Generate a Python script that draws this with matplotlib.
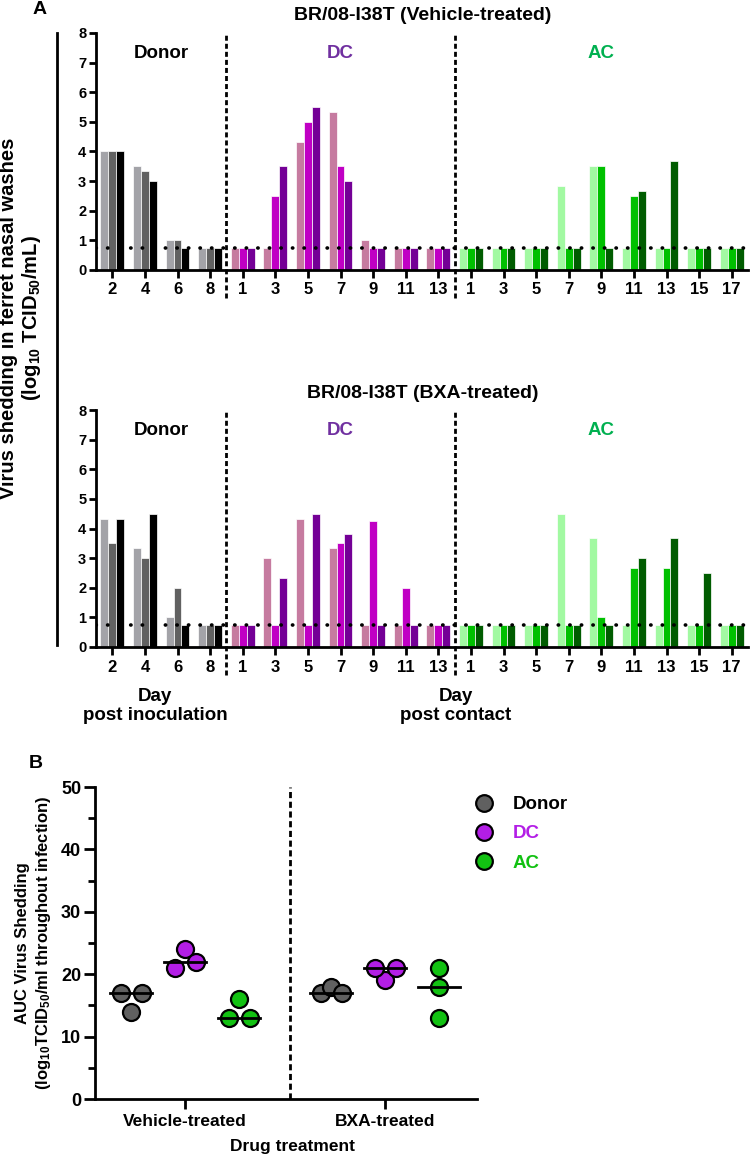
import numpy as np
import matplotlib
matplotlib.use("Agg")
import matplotlib.pyplot as plt
from matplotlib.lines import Line2D

# --- Panel A data: virus titres (log10 TCID50/mL), one list per animal ---
DONOR_DAYS = [2, 4, 6, 8]
DC_DAYS = [1, 3, 5, 7, 9, 11, 13]
AC_DAYS = [1, 3, 5, 7, 9, 11, 13, 15, 17]
LIMIT = 0.75  # detection limit

VEH_DONOR = [
    [4.0, 3.5, 1.0, 0.75],
    [4.0, 3.33, 1.0, 0.75],
    [4.0, 3.0, 0.75, 0.75],
]
VEH_DC = [
    [0.75, 0.75, 4.33, 5.33, 1.0, 0.75, 0.75],
    [0.75, 2.5, 5.0, 3.5, 0.75, 0.75, 0.75],
    [0.75, 3.5, 5.5, 3.0, 0.75, 0.75, 0.75],
]
VEH_AC = [
    [0.75, 0.75, 0.75, 2.83, 3.5, 0.75, 0.75, 0.75, 0.75],
    [0.75, 0.75, 0.75, 0.75, 3.5, 2.5, 0.75, 0.75, 0.75],
    [0.75, 0.75, 0.75, 0.75, 0.75, 2.67, 3.67, 0.75, 0.75],
]

BXA_DONOR = [
    [4.33, 3.33, 1.0, 0.75],
    [3.5, 3.0, 2.0, 0.75],
    [4.33, 4.5, 0.75, 0.75],
]
BXA_DC = [
    [0.75, 3.0, 4.33, 3.33, 0.75, 0.75, 0.75],
    [0.75, 0.75, 0.75, 3.5, 4.25, 2.0, 0.75],
    [0.75, 2.33, 4.5, 3.83, 0.75, 0.75, 0.75],
]
BXA_AC = [
    [0.75, 0.75, 0.75, 4.5, 3.67, 0.75, 0.75, 0.75, 0.75],
    [0.75, 0.75, 0.75, 0.75, 1.0, 2.67, 2.67, 0.75, 0.75],
    [0.75, 0.75, 0.75, 0.75, 0.75, 3.0, 3.67, 2.5, 0.75],
]

# --- Panel B data: AUC of virus shedding ---
TREATMENTS = ["Vehicle-treated", "BXA-treated"]
AUC_DONOR = [[17, 17, 14], [17, 18, 17]]
AUC_DC = [[24, 21, 22], [19, 21, 21]]
AUC_AC = [[16, 13, 13], [21, 18, 13]]

# Colours
DONOR_COLORS = ["#a3a3a8", "#616161", "#000000"]
DC_COLORS = ["#c67ba0", "#c000c4", "#740096"]
AC_COLORS = ["#a2f9a2", "#00c000", "#005c00"]
B_COLORS = {"Donor": "#606060", "DC": "#b31ee6", "AC": "#12c112"}

plt.rcParams['font.family'] = ['Liberation Sans', 'DejaVu Sans']
plt.rcParams['font.weight'] = 'bold'
plt.rcParams['mathtext.fontset'] = 'custom'
plt.rcParams['mathtext.rm'] = 'Liberation Sans:bold'
plt.rcParams['mathtext.bf'] = 'Liberation Sans:bold'
plt.rcParams['mathtext.default'] = 'bf'

W, H = 750, 1158
fig = plt.figure(figsize=(W / 100, H / 100), dpi=100)


def box(x0, y0, x1, y1):
    # pixel box (top-left origin) -> figure fraction rect
    return [x0 / W, 1 - y1 / H, (x1 - x0) / W, (y1 - y0) / H]


def ftext(x, y, s, **kw):
    # text placed in pixel coordinates (top-left origin)
    fig.text(x / W, 1 - y / H, s, ha=kw.pop("ha", "center"), va=kw.pop("va", "center"), **kw)


BAR_W = 0.245


def bar_panel(ax, donor, dc, ac):
    start = 0
    centers = []
    for data, colors in [(donor, DONOR_COLORS), (dc, DC_COLORS), (ac, AC_COLORS)]:
        n = len(data[0])
        x = np.arange(start, start + n)
        for k in range(3):
            ax.bar(x + (k - 1) * BAR_W, data[k], width=BAR_W, color=colors[k],
                   edgecolor="white", linewidth=0.5, zorder=2)
        centers.append((x[0] + x[-1]) / 2)
        start += n
    ax.set_xlim(-0.5, start - 0.5)
    ax.set_ylim(0, 8)
    ax.set_xticks(np.arange(start))
    ax.set_xticklabels([str(d) for d in DONOR_DAYS + DC_DAYS + AC_DAYS], fontsize=12)
    ax.set_yticks(range(9))
    ax.tick_params(axis="y", labelsize=10.5, length=5, width=2, pad=2)
    ax.tick_params(axis="x", length=6, width=2, pad=3)
    for s in ["top", "right"]:
        ax.spines[s].set_visible(False)
    ax.spines["left"].set_linewidth(2)
    ax.spines["bottom"].set_linewidth(2)

    # detection limit
    ax.plot([-0.5, start - 0.5], [LIMIT, LIMIT], color="black", lw=2.6,
            ls=(0, (0.1, 3.1)), dash_capstyle="round", zorder=4)
    # separators between the three groups
    for xs in [len(DONOR_DAYS) - 0.5, len(DONOR_DAYS) + len(DC_DAYS) - 0.5]:
        ax.plot([xs, xs], [-0.95, 8], color="black", lw=2, ls=(0, (1.8, 1.1)),
                clip_on=False, zorder=5)

    for cx, name, col in zip(centers, ["Donor", "DC", "AC"], ["black", "#7030a0", "#00b050"]):
        ax.text(cx, 7.3, name, ha="center", va="center", fontsize=13.5, color=col)


axA1 = fig.add_axes(box(96, 33, 748, 270))
axA2 = fig.add_axes(box(96, 410, 748, 647))
bar_panel(axA1, VEH_DONOR, VEH_DC, VEH_AC)
bar_panel(axA2, BXA_DONOR, BXA_DC, BXA_AC)

ftext(423, 16, "BR/08-I38T (Vehicle-treated)", fontsize=14)
ftext(423, 393, "BR/08-I38T (BXA-treated)", fontsize=14)
ftext(40, 9, "A", fontsize=14)

# shared y label and its bar
fig.add_artist(Line2D([57 / W, 57 / W], [1 - 33 / H, 1 - 645 / H], color="black", lw=2))
ftext(21, 318, "Virus shedding in ferret nasal washes\n(log$_{10}$ TCID$_{50}$/mL)",
      rotation=90, fontsize=14.5, linespacing=1.1)

# x labels under the lower panel
ftext(155, 706, "Day\npost inoculation", fontsize=13.5, linespacing=1.2)
ftext(456, 706, "Day\npost contact", fontsize=13.5, linespacing=1.2)

# --- Panel B ---
axB = fig.add_axes(box(95, 787, 477, 1099))
OFFSETS = {"Donor": -0.27, "DC": 0.0, "AC": 0.27}


def swarm(values, row_h=2.6, half=0.0525):
    # points falling in the same row are spread sideways
    rows = {}
    for i, v in enumerate(values):
        rows.setdefault(round(v / row_h), []).append(i)
    off = np.zeros(len(values))
    for idx in rows.values():
        if len(idx) > 1:
            off[idx] = np.linspace(-half, half, len(idx))
    return off


for name, series in [("Donor", AUC_DONOR), ("DC", AUC_DC), ("AC", AUC_AC)]:
    for t, vals in enumerate(series):
        cx = t + OFFSETS[name]
        axB.scatter(cx + swarm(vals), vals, s=150, color=B_COLORS[name],
                    edgecolor="black", linewidth=1.6, zorder=3, clip_on=False)
        med = np.median(vals)
        axB.plot([cx - 0.105, cx + 0.105], [med, med], color="black", lw=2, zorder=4)

axB.plot([0.525, 0.525], [0, 50], color="black", lw=2, ls=(0, (2.2, 1.3)), zorder=1)
axB.set_xlim(-0.45, 1.46)
axB.set_ylim(0, 50)
axB.set_xticks(range(len(TREATMENTS)))
axB.set_xticklabels(TREATMENTS, fontsize=12.5)
axB.set_yticks(range(0, 51, 10))
axB.set_yticks(range(5, 50, 10), minor=True)
axB.tick_params(axis="y", which="major", labelsize=13, length=8, width=2, pad=2)
axB.tick_params(axis="y", which="minor", length=5, width=2)
axB.tick_params(axis="x", length=7, width=2, pad=4)
for s in ["top", "right"]:
    axB.spines[s].set_visible(False)
axB.spines["left"].set_linewidth(2)
axB.spines["bottom"].set_linewidth(2)

ftext(36, 763, "B", fontsize=14)
ftext(34, 943, "AUC Virus Shedding\n(log$_{10}$TCID$_{50}$/ml throughout infection)",
      rotation=90, fontsize=12, linespacing=1.25)
ftext(292, 1147, "Drug treatment", fontsize=12.5)

# legend
handles = [Line2D([], [], marker="o", ls="none", markersize=12, markerfacecolor=B_COLORS[n],
                  markeredgecolor="black", markeredgewidth=1.6) for n in B_COLORS]
leg = fig.legend(handles, list(B_COLORS), loc="upper left", bbox_to_anchor=(460 / W, 1 - 781 / H),
                 frameon=False, fontsize=13.5, handlelength=1.0, handletextpad=1.0,
                 labelspacing=0.65, borderpad=0.3)
for txt, n in zip(leg.get_texts(), B_COLORS):
    txt.set_color("black" if n == "Donor" else B_COLORS[n])

fig.savefig("out.png", dpi=100)
